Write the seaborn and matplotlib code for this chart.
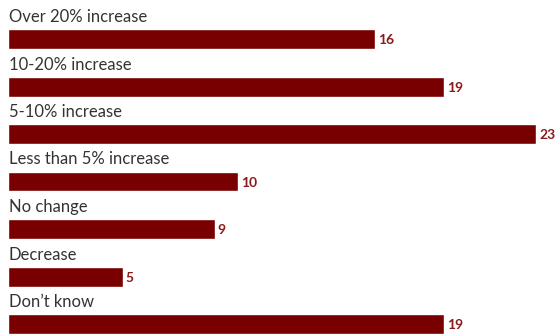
import matplotlib
matplotlib.use("Agg")
import matplotlib.pyplot as plt
import seaborn as sns
import pandas as pd

# data
categories = ["Over 20% increase", "10-20% increase", "5-10% increase",
              "Less than 5% increase", "No change", "Decrease", "Don\u2019t know"]
values = [16, 19, 23, 10, 9, 5, 19]

df = pd.DataFrame({"cat": categories, "val": values})

sns.set_style("white")
plt.rcParams["font.family"] = ["Lato", "DejaVu Sans"]

fig = plt.figure(figsize=(5.56, 3.36), dpi=100)
ax = fig.add_axes([0, 0, 1, 1])

bar_color = "#780000"
sns.barplot(data=df, y="cat", x="val", orient="h", color=bar_color,
            width=20 / 47.5, ax=ax, saturation=1)

px = 22.96  # pixels per unit
ax.set_xlim(-8 / px, (556 - 8) / px)
ax.set_ylim((336 - 39) / 47.5, -39 / 47.5)

for i, (c, v) in enumerate(zip(categories, values)):
    ax.text(0.03, i - 17 / 47.5, c, ha="left", va="baseline",
            fontsize=12, color="#333333")
    ax.text(v + 3 / px, i + 0.03, str(v), ha="left", va="center",
            fontsize=10, fontweight="bold", color="#8b1a1a")

ax.axis("off")
fig.savefig("out.png", dpi=100)
